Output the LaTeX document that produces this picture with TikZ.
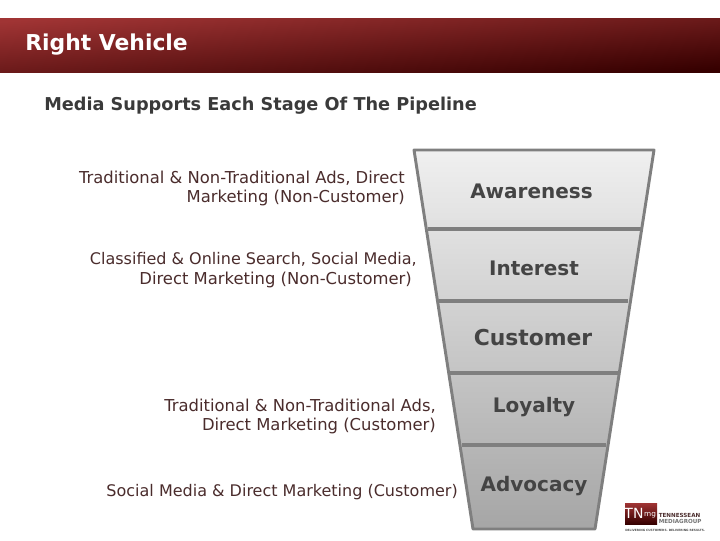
\documentclass[tikz,border=0pt]{standalone}
\usepackage{fontspec}
\setmainfont{DejaVu Sans}
\definecolor{bandA}{HTML}{A03434}
\definecolor{bandB}{HTML}{360000}
\definecolor{funnelLine}{HTML}{7F7F7F}
\definecolor{stageText}{HTML}{444444}
\definecolor{noteText}{HTML}{4A2C2C}
\definecolor{headText}{HTML}{3A3A3A}
\tikzset{
  stage/.style={font=\bfseries\fontsize{15}{18}\selectfont, text=stageText, inner sep=0pt, anchor=center},
  note/.style={font=\fontsize{12.3}{14.4}\selectfont, text=noteText, align=right, inner sep=0pt, anchor=east},
  notetight/.style={note, font=\fontsize{12}{14.8}\selectfont},
  funnel/.style={draw=funnelLine, line width=2.2pt, line join=round},
  divider/.style={draw=funnelLine, line width=2.5pt},
}
\begin{document}
\begin{tikzpicture}[x=0.75pt,y=-0.75pt]
\useasboundingbox (0,0) rectangle (720,540);
\shade[top color=bandA, bottom color=bandB, shading angle=4.3] (0,18) rectangle (720,72);
\node[anchor=west, inner sep=0pt, text=white, font=\bfseries\fontsize{16.4}{19}\selectfont] (title) at (25,45) {Right Vehicle};
\node[anchor=west, inner sep=0pt, text=headText, font=\bfseries\fontsize{13.27}{16}\selectfont] (head) at (44,106) {Media Supports Each Stage Of The Pipeline};
% funnel
\shade[top color=black!6, bottom color=black!35] (414,150) -- (654,150) -- (595,529) -- (473,529) -- cycle;
\draw[funnel] (414,150) -- (654,150) -- (595,529) -- (473,529) -- cycle;
\draw[divider] (428,229) -- (641,229);
\draw[divider] (439,301) -- (628,301);
\draw[divider] (449,373) -- (618,373);
\draw[divider] (462,445) -- (606,445);
% stages
\node[stage] (s1) at (531.5,191) {Awareness};
\node[stage] (s2) at (534,268.5) {Interest};
\node[stage, font=\bfseries\fontsize{16.4}{19}\selectfont] (s3) at (533,338) {Customer};
\node[stage] (s4) at (534,407) {Loyalty};
\node[stage] (s5) at (534,486.5) {Advocacy};
% notes
\node[note] (n1) at (405,188.5) {Traditional \& Non-Traditional Ads, Direct\\Marketing (Non-Customer)};
\node[notetight] (n2) at (417,270) {Classified \& Online Search, Social Media,\\{\fontsize{12.3}{14.8}\selectfont Direct Marketing (Non-Customer)}\rule{3.75pt}{0pt}};
\node[note] (n3) at (436,416.5) {Traditional \& Non-Traditional Ads,\\Direct Marketing (Customer)};
\node[notetight] (n4) at (458,492) {Social Media \& Direct Marketing (Customer)};
% logo
\shade[top color=bandA, bottom color=bandB] (625,503) rectangle (657,524);
\node[text=white, inner sep=0pt, font=\fontsize{10.5}{11}\selectfont] (lgA) at (634,513) {TN};
\node[text=white, inner sep=0pt, font=\fontsize{5.5}{7}\selectfont] (lgB) at (650,515) {mg};
\node[anchor=west, inner sep=0pt, text=noteText, font=\bfseries\fontsize{4.2}{5}\selectfont] (lgC) at (658.5,515) {TENNESSEAN};
\node[anchor=west, inner sep=0pt, text=black!55, font=\bfseries\fontsize{4.2}{5}\selectfont] (lgD) at (658.5,521) {MEDIAGROUP};
\node[anchor=west, inner sep=0pt, text=black!70, font=\bfseries\fontsize{2.2}{3}\selectfont] (lgE) at (625,530) {DELIVERING CUSTOMERS. DELIVERING RESULTS.};
\end{tikzpicture}
\end{document}
